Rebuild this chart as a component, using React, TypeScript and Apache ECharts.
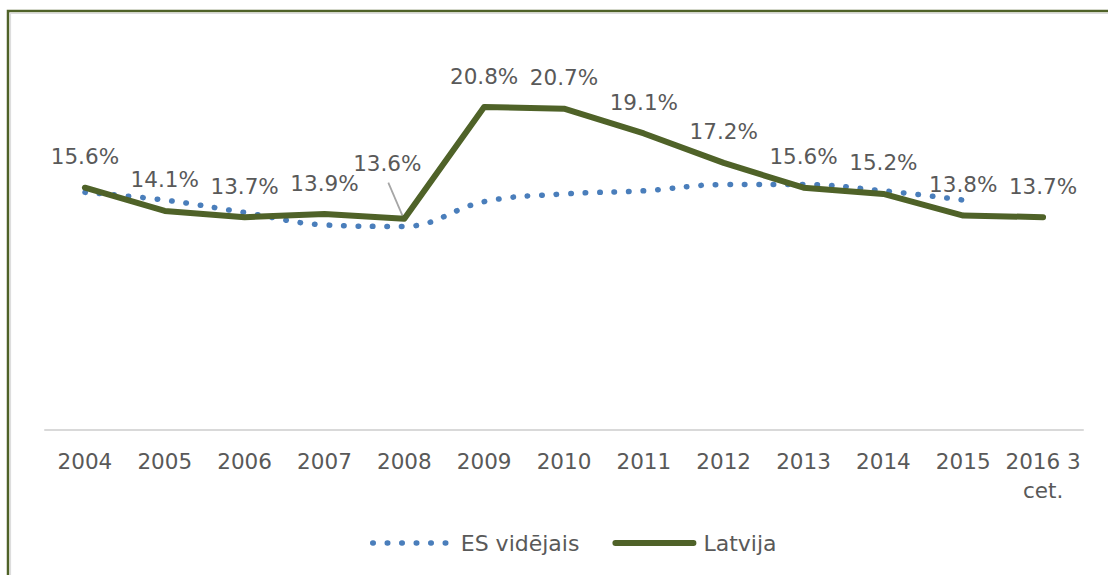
import React, { useEffect, useRef } from "react";
import * as echarts from "echarts";

const categories = ["2004", "2005", "2006", "2007", "2008", "2009", "2010", "2011", "2012", "2013", "2014", "2015", "2016 3\ncet."];
const esValues: (number | null)[] = [15.3, 14.8, 14.0, 13.2, 13.1, 14.7, 15.2, 15.4, 15.8, 15.8, 15.4, 14.8, null];
const latviaValues = [15.6, 14.1, 13.7, 13.9, 13.6, 20.8, 20.7, 19.1, 17.2, 15.6, 15.2, 13.8, 13.7];
const seriesNames = ["ES vidējais", "Latvija"];
const displacedLabelIndex = 4;

const FONT = "DejaVu Sans";
const TEXT = "#595959";
const GREEN = "#4F6228";
const BLUE = "#4A7EBB";

const esLine = { color: BLUE, width: 5.5, type: [0.5, 14], cap: "round" };
const lvLine = { color: GREEN, width: 6, cap: "round", join: "round" };

export default function App() {
  const ref = useRef<HTMLDivElement>(null);
  useEffect(() => {
    if (!ref.current) return;
    const chart = echarts.init(ref.current, undefined, { renderer: "svg" });
    const latData = latviaValues.map((v, i) =>
      i === displacedLabelIndex ? { value: v, label: { offset: [-17, -24] } } : v
    );
    chart.setOption({
      animation: false,
      backgroundColor: "#ffffff",
      textStyle: { fontFamily: FONT },
      graphic: [
        { id: "frame", type: "rect", shape: { x: 8, y: 11, width: 1300, height: 800 }, style: { fill: "none", stroke: GREEN, lineWidth: 2.5 }, silent: true },
        { id: "frame2", type: "rect", shape: { x: 10.5, y: 13.5, width: 1300, height: 800 }, style: { fill: "none", stroke: "#DDDDDD", lineWidth: 1.2 }, silent: true },
      ],
      grid: { left: 45, right: 25, top: 42, bottom: 145.5 },
      legend: {
        data: [
          { name: seriesNames[0], lineStyle: esLine, itemStyle: { color: "transparent", borderWidth: 0 } },
          { name: seriesNames[1], lineStyle: lvLine, itemStyle: { color: "transparent", borderWidth: 0 } },
        ],
        left: 365,
        top: 527,
        itemWidth: 78,
        itemHeight: 6,
        itemGap: 33,
        textStyle: { color: TEXT, fontSize: 22, fontFamily: FONT, padding: [0, 0, 0, 5] },
      },
      xAxis: {
        type: "category",
        data: categories,
        boundaryGap: true,
        axisLine: { lineStyle: { color: "#D9D9D9", width: 2 } },
        axisTick: { show: false },
        axisLabel: { color: TEXT, fontSize: 21.5, fontFamily: FONT, margin: 17, lineHeight: 29, interval: 0 },
      },
      yAxis: {
        type: "value",
        min: 0,
        max: 25,
        show: false,
        splitLine: { show: false },
      },
      series: [
        {
          name: seriesNames[0],
          type: "line",
          data: esValues,
          smooth: 0.4,
          symbol: "circle",
          symbolSize: 1,
          itemStyle: { color: "transparent" },
          lineStyle: esLine,
          z: 2,
        },
        {
          name: seriesNames[1],
          type: "line",
          data: latData,
          symbol: "circle",
          symbolSize: 2,
          itemStyle: { color: "transparent" },
          lineStyle: lvLine,
          label: {
            show: true,
            position: "top",
            distance: 19,
            color: TEXT,
            fontSize: 21.5,
            fontFamily: FONT,
            formatter: (p: any) => p.value.toFixed(1) + "%",
          },
          z: 3,
        },
      ],
    });
    const pt = chart.convertToPixel({ seriesIndex: 1 }, [displacedLabelIndex, latviaValues[displacedLabelIndex]]) as number[];
    chart.setOption({
      graphic: [
        {
          id: "leader",
          type: "line",
          shape: { x1: pt[0] - 16, y1: pt[1] - 36, x2: pt[0] - 1, y2: pt[1] - 1 },
          style: { stroke: "#A6A6A6", lineWidth: 1.8 },
          z: 1,
          silent: true,
        },
      ],
    });
    return () => chart.dispose();
  }, []);
  return <div ref={ref} style={{ position: "fixed", left: 0, top: 0, width: 1108, height: 575 }} />;
}
